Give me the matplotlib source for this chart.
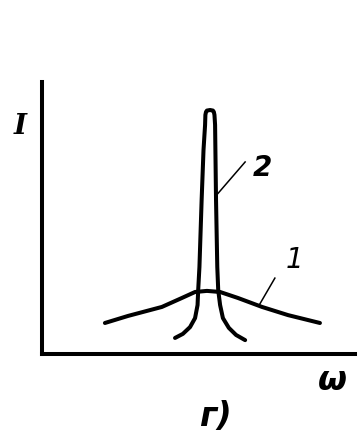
import matplotlib
matplotlib.use("Agg")
import matplotlib.pyplot as plt

# broad line (1): frequency vs intensity
omega_1 = [2.01, 2.75, 3.83, 4.47, 4.89, 5.27, 5.69, 6.26, 7.03, 7.86, 8.88]
intensity_1 = [1.14, 1.40, 1.73, 2.06, 2.28, 2.32, 2.28, 2.06, 1.73, 1.43, 1.14]

# narrow line (2)
omega_2 = [4.25, 4.50, 4.73, 4.89, 4.97, 4.99, 5.03, 5.10, 5.16, 5.21, 5.22, 5.24,
           5.27, 5.37, 5.46, 5.49, 5.51, 5.53, 5.54, 5.56, 5.60, 5.63, 5.69, 5.78,
           5.97, 6.20, 6.49]
intensity_2 = [0.59, 0.74, 0.99, 1.32, 1.80, 2.35, 3.20, 5.66, 7.50, 8.42, 8.79, 8.90,
               8.95, 8.97, 8.95, 8.90, 8.79, 8.42, 7.50, 5.66, 3.20, 2.35, 1.80, 1.32,
               0.96, 0.70, 0.51]

# curve labels with leader lines: (label, weight, text position, leader start, leader end)
curve_labels = [
    ("2", "bold", (7.03, 6.84), (5.62, 5.90), (6.49, 7.06)),
    ("1", "normal", (8.08, 3.46), (6.96, 1.84), (7.44, 2.79)),
]

fig = plt.figure(figsize=(3.58, 4.43), dpi=100)
ax = fig.add_axes([42 / 358, 89 / 443, 313 / 358, 272 / 443])
ax.set_xlim(0, 10)
ax.set_ylim(0, 10)

lw = 2.9
ax.plot(omega_1, intensity_1, color="black", lw=lw, solid_capstyle="round",
        solid_joinstyle="round")
ax.plot(omega_2, intensity_2, color="black", lw=lw, solid_capstyle="round",
        solid_joinstyle="round")

for text, weight, (tx, ty), (x0, y0), (x1, y1) in curve_labels:
    ax.plot([x0, x1], [y0, y1], color="black", lw=1.1)
    ax.text(tx, ty, text, fontsize=20, style="italic", fontweight=weight,
            ha="center", va="center", family="DejaVu Sans")

for side in ("top", "right"):
    ax.spines[side].set_visible(False)
for side in ("left", "bottom"):
    ax.spines[side].set_linewidth(2.9)
ax.set_xticks([])
ax.set_yticks([])

fig.text(20 / 358, 1 - 127 / 443, "I", fontsize=20, style="italic", fontweight="bold",
         family="DejaVu Serif", ha="center", va="center")
fig.text(332 / 358, 1 - 380 / 443, "ω", fontsize=24, style="italic", fontweight="bold",
         family="DejaVu Sans", ha="center", va="center")
fig.text(215 / 358, 1 - 416 / 443, "г)", fontsize=24, style="italic", fontweight="bold",
         family="DejaVu Sans", ha="center", va="center")

fig.savefig("out.png", dpi=100)
